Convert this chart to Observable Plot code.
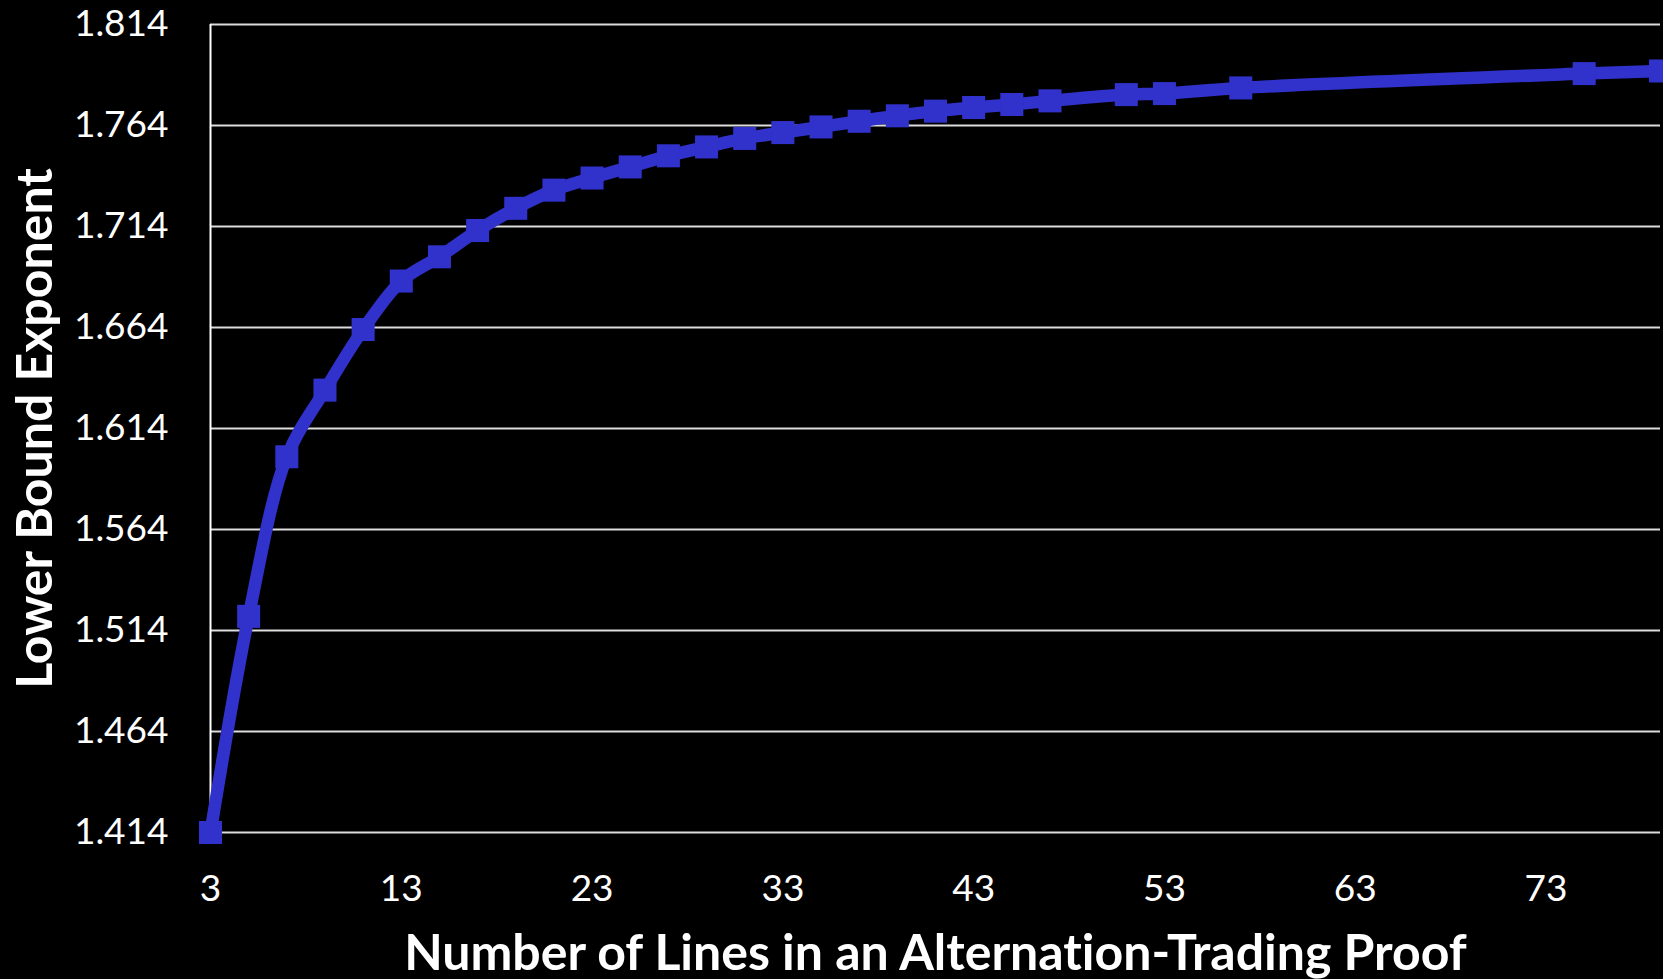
<!DOCTYPE html>
<html>
<head>
<meta charset="utf-8">
<script src="https://cdn.jsdelivr.net/npm/d3@7"></script>
<script src="https://cdn.jsdelivr.net/npm/@observablehq/plot@0.6"></script>
<style>
  html, body { margin: 0; padding: 0; background: #000; overflow: hidden; }
  #chart svg { display: block; background: #000; }
  #chart svg text { font-variant-ligatures: none; font-feature-settings: "liga" 0; }
</style>
</head>
<body>
<div id="chart"></div>
<script>
// Number of lines in the proof
const lines = [3, 5, 7, 9, 11, 13, 15, 17, 19, 21, 23, 25, 27, 29, 31, 33, 35, 37, 39, 41, 43, 45, 47, 51, 53, 57, 75, 79];
// Lower bound exponent
const exponents = [1.414, 1.521, 1.600, 1.633, 1.663, 1.687, 1.699, 1.712, 1.723, 1.732, 1.738, 1.7435, 1.749, 1.7534, 1.7576, 1.7605, 1.7633, 1.7661, 1.7688, 1.7711, 1.7729, 1.7744, 1.7762, 1.7793, 1.7798, 1.7826, 1.7897, 1.791];
const xTicks = [3, 13, 23, 33, 43, 53, 63, 73];
const yTicks = [1.414, 1.464, 1.514, 1.564, 1.614, 1.664, 1.714, 1.764, 1.814];
const xTitle = "Number of Lines in an Alternation-Trading Proof";
const yTitle = "Lower Bound Exponent";

const data = lines.map((x, i) => ({x, y: exponents[i]}));
const font = "Lato, 'Open Sans', sans-serif";
const blue = "#3131cc";

const chart = Plot.plot({
  width: 1663,
  height: 979,
  marginLeft: 210,
  marginRight: 3,
  marginTop: 24,
  marginBottom: 147,
  style: {background: "#000", color: "#fff", fontFamily: font, overflow: "visible"},
  x: {domain: [3, 79]},
  y: {domain: [1.414, 1.814]},
  marks: [
    Plot.gridY(yTicks, {stroke: "#dcdcdc", strokeOpacity: 1, strokeWidth: 2}),
    Plot.ruleX([3], {y1: 1.414, y2: 1.814, stroke: "#ffffff", strokeWidth: 2}),
    Plot.axisY({ticks: yTicks, tickSize: 0, tickPadding: 42, tickFormat: d3.format(".3f"), fontSize: 37, fill: "#fff", label: null}),
    Plot.axisX({ticks: xTicks, tickSize: 0, tickPadding: 42, tickFormat: d => String(d), fontSize: 37, fill: "#fff", label: null}),
    Plot.line(data, {x: "x", y: "y", stroke: blue, strokeWidth: 12.5, curve: "catmull-rom"}),
    Plot.dot(data, {x: "x", y: "y", symbol: "square", r: 13, fill: blue, stroke: "none"}),
    Plot.text([xTitle], {frameAnchor: "bottom", textAnchor: "middle", dy: 137, fontSize: 50, fontWeight: "bold", fill: "#fff", fontFamily: font}),
    Plot.text([yTitle], {frameAnchor: "left", textAnchor: "middle", dx: -175, rotate: -90, fontSize: 50, fontWeight: "bold", fill: "#fff", fontFamily: font})
  ]
});
document.getElementById("chart").append(chart);
</script>
</body>
</html>
